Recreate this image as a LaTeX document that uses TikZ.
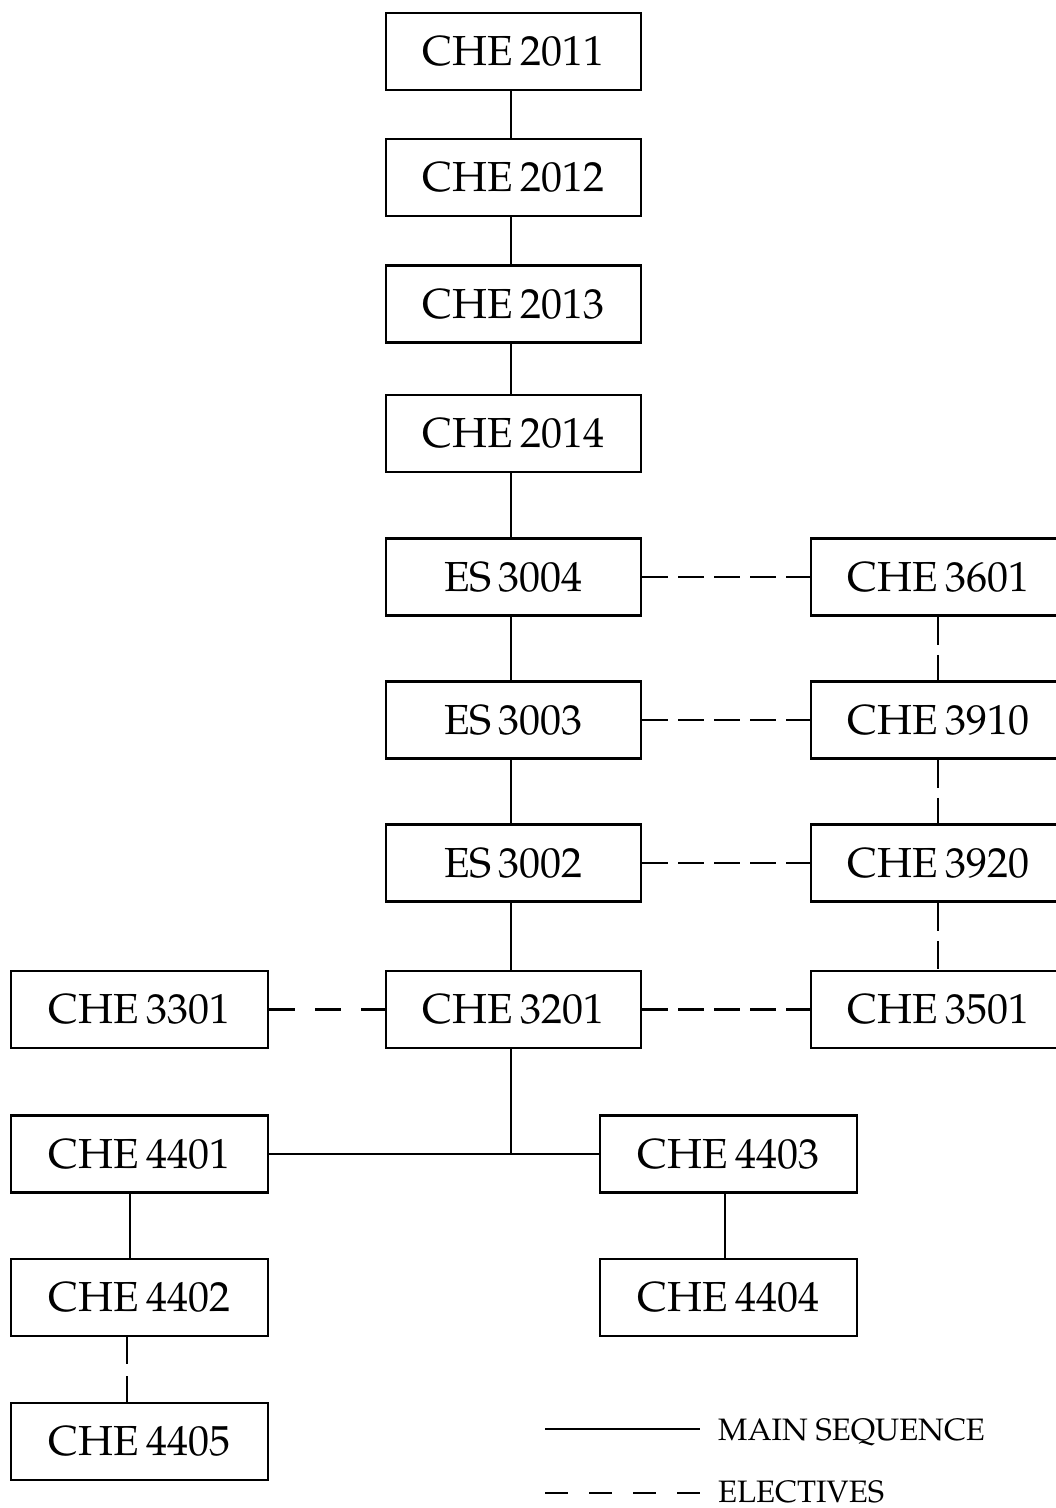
\documentclass[tikz,border=0pt]{standalone}
\usepackage[T1]{fontenc}
\usepackage{mathpazo}
\newcommand{\crs}[2]{#1\hspace{0.16em}#2}
\begin{document}
\begin{tikzpicture}[x=1pt,y=-1pt,
  course/.style={draw, line width=2.6pt, minimum width=255pt, minimum height=77pt, inner sep=0pt,
    font=\fontsize{42}{48}\selectfont},
  mainline/.style={line width=2.5pt},
  elective/.style={line width=2.5pt, dash pattern=on 26pt off 10pt},
  legendtext/.style={anchor=base west, inner sep=0pt, font=\fontsize{31}{36}\selectfont}]
\useasboundingbox (0,0) rectangle (1056,1508);
% central column
\node[course] (c2011) at (513.5,51.5) {\crs{CHE}{2011}};
\node[course] (c2012) at (513.5,177.5) {\crs{CHE}{2012}};
\node[course] (c2013) at (513.5,304) {\crs{CHE}{2013}};
\node[course] (c2014) at (513.5,433.5) {\crs{CHE}{2014}};
\node[course] (e3004) at (513.5,577) {\crs{ES}{3004}};
\node[course] (e3003) at (513.5,720) {\crs{ES}{3003}};
\node[course] (e3002) at (513.5,863) {\crs{ES}{3002}};
\node[course] (c3201) at (513.5,1009.5) {\crs{CHE}{3201}};
% right column
\node[course] (c3601) at (938.5,577) {\crs{CHE}{3601}};
\node[course] (c3910) at (938.5,720) {\crs{CHE}{3910}};
\node[course] (c3920) at (938.5,863) {\crs{CHE}{3920}};
\node[course] (c3501) at (938.5,1009.5) {\crs{CHE}{3501}};
% left and lower columns
\node[course, minimum width=257pt] (c3301) at (139.5,1009.5) {\crs{CHE}{3301}};
\node[course, minimum width=257pt] (c4401) at (139.5,1154) {\crs{CHE}{4401}};
\node[course, minimum width=257pt] (c4402) at (139.5,1297.5) {\crs{CHE}{4402}};
\node[course, minimum width=257pt] (c4405) at (139.5,1441.5) {\crs{CHE}{4405}};
\node[course, minimum width=257pt] (c4403) at (728.5,1154) {\crs{CHE}{4403}};
\node[course, minimum width=257pt] (c4404) at (728.5,1297.5) {\crs{CHE}{4404}};
% main sequence
\draw[mainline] ([xshift=-2.5pt]c2011.south) -- ([xshift=-2.5pt]c2012.north);
\draw[mainline] ([xshift=-2.5pt]c2012.south) -- ([xshift=-2.5pt]c2013.north);
\draw[mainline] ([xshift=-2.5pt]c2013.south) -- ([xshift=-2.5pt]c2014.north);
\draw[mainline] ([xshift=-2.5pt]c2014.south) -- ([xshift=-2.5pt]e3004.north);
\draw[mainline] ([xshift=-2.5pt]e3004.south) -- ([xshift=-2.5pt]e3003.north);
\draw[mainline] ([xshift=-2.5pt]e3003.south) -- ([xshift=-2.5pt]e3002.north);
\draw[mainline] ([xshift=-2.5pt]e3002.south) -- ([xshift=-2.5pt]c3201.north);
\draw[mainline] ([xshift=-2.5pt]c3201.south) -- ([xshift=-2.5pt]c3201.south |- c4401.east);
\draw[mainline] (c4401.east) -- (c4403.west);
\draw[mainline] ([xshift=-9.5pt]c4401.south) -- ([xshift=-9.5pt]c4402.north);
\draw[mainline] ([xshift=-3.5pt]c4403.south) -- ([xshift=-3.5pt]c4404.north);
% electives
\draw[elective] (e3004.east) -- (c3601.west);
\draw[elective] (e3003.east) -- (c3910.west);
\draw[elective] (e3002.east) -- (c3920.west);
\draw[elective] (c3201.east) -- (c3501.west);
\draw[elective, dash pattern=on 28pt off 10pt] ([xshift=-0.5pt]c3601.south) -- ([xshift=-0.5pt]c3910.north);
\draw[elective, dash pattern=on 28pt off 10pt] ([xshift=-0.5pt]c3910.south) -- ([xshift=-0.5pt]c3920.north);
\draw[elective, dash pattern=on 28pt off 10pt] ([xshift=-0.5pt]c3920.south) -- ([xshift=-0.5pt]c3501.north);
\draw[elective, dash pattern=on 26pt off 20pt] (c3301.east) -- (c3201.west);
\draw[elective, dash pattern=on 27pt off 12pt] ([xshift=-12.5pt]c4402.south) -- ([xshift=-12.5pt]c4405.north);
% legend
\coordinate (ms1) at (545,1429);
\coordinate (ms2) at (700,1429);
\coordinate (el1) at (545,1493);
\coordinate (el2) at (700,1493);
\draw[mainline] (ms1) -- (ms2);
\draw[elective, dash pattern=on 22.5pt off 21.5pt] (el1) -- (el2);
\node[legendtext] (lms) at (718,1440) {MAIN SEQUENCE};
\node[legendtext] (lel) at (718,1502) {ELECTIVES};
\end{tikzpicture}
\end{document}
